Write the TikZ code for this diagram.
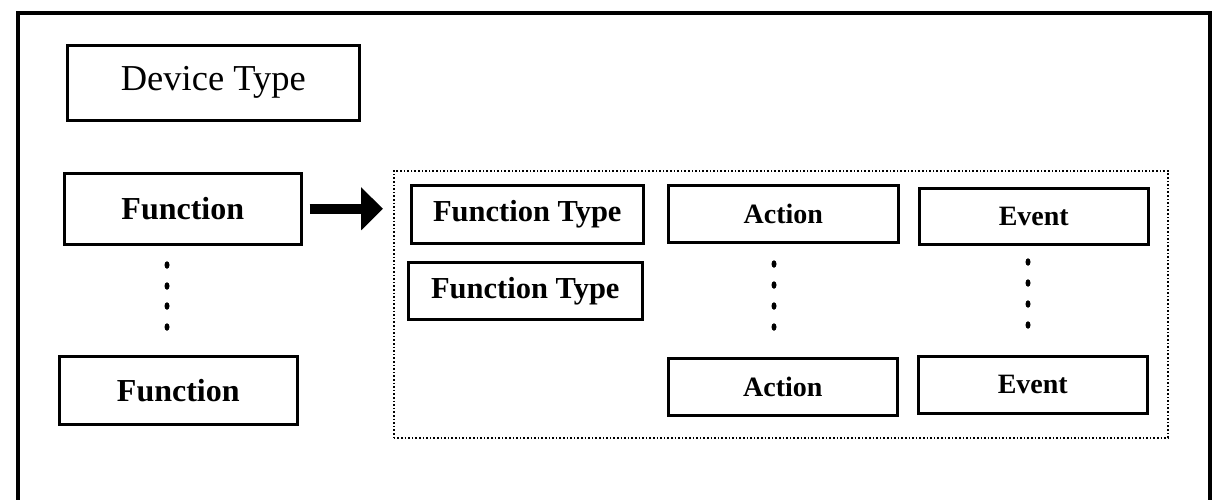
\documentclass[tikz,border=0pt]{standalone}
\usepackage{fontspec}
\setmainfont{Liberation Serif}
\usetikzlibrary{arrows.meta,positioning,shapes.geometric}
\tikzset{
  box/.style={draw, line width=2.6pt, inner sep=0pt, anchor=north west},
  lbl/.style={font=\fontsize{#1}{#1}\selectfont\bfseries},
  lbl/.default=28,
  panel/.style={draw, line width=1.6pt, dotted, inner sep=0pt, anchor=north west},
  vdot/.style={fill, ellipse, inner sep=0pt, minimum width=5pt, minimum height=7.5pt},
  fatarrow/.style={line width=10pt, -{Triangle[length=22pt,width=42pt]}},
}
\begin{document}
\begin{tikzpicture}[x=1pt,y=-1pt]
  \useasboundingbox (0,0) rectangle (1214,499);
  \clip (0,0) rectangle (1214,499);
  \fill[white] (0,0) rectangle (1214,499);
  % outer frame (runs past the lower edge)
  \draw[line width=4.5pt] (18,530) -- (18,13) -- (1210,13) -- (1210,530);

  % left column
  \node[box, minimum width=292pt, minimum height=75pt, font=\fontsize{36.5}{38}\selectfont] (dev) at (66,44) {Device Type};
  \node[box, lbl=32, minimum width=237pt, minimum height=71pt] (f1) at (63,172) {Function};
  \node[box, lbl=32, minimum width=238pt, minimum height=68pt] (f2) at (58,355) {Function};
  \foreach \y/\n in {265/a,286/b,306/c,327/d}
    \node[vdot] (fd\n) at (167,\y) {};

  % dotted panel with the function's parts
  \node[panel, minimum width=774pt, minimum height=267pt] (pan) at (393,170) {};
  \node[box, lbl=30.5, minimum width=232pt, minimum height=58pt] (ft1) at (410,184) {Function Type};
  \node[box, lbl=30.5, minimum width=234pt, minimum height=57pt] (ft2) at (407,261) {Function Type};
  \node[box, lbl, minimum width=230pt, minimum height=57pt] (a1) at (667,184) {Action};
  \node[box, lbl, minimum width=229pt, minimum height=57pt] (a2) at (667,357) {Action};
  \node[box, lbl, minimum width=229pt, minimum height=56pt] (e1) at (918,187) {Event};
  \node[box, lbl, minimum width=229pt, minimum height=57pt] (e2) at (917,355) {Event};
  \foreach \y/\n in {264/a,285/b,306/c,327/d}{
    \node[vdot] (ad\n) at (774,\y) {};
    \node[vdot] (ed\n) at (1028,\y-2) {};
  }

  % expansion arrow
  \draw[fatarrow] ([xshift=7pt]f1.east) -- ([xshift=-10pt]f1.east -| pan.west);
\end{tikzpicture}
\end{document}
